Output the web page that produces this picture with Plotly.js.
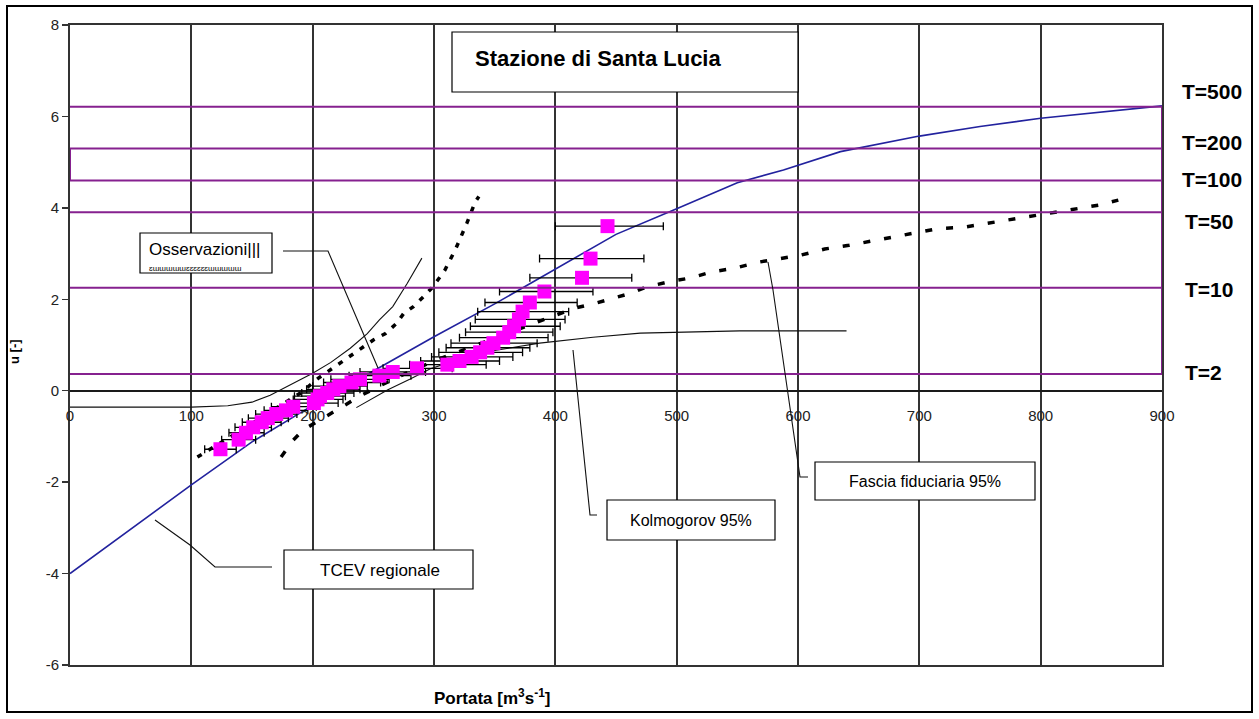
<!DOCTYPE html>
<html>
<head>
<meta charset="utf-8">
<script src="https://cdn.plot.ly/plotly-3.0.1.min.js"></script>
<style>html,body{margin:0;padding:0;background:#fff;}#chart{width:1259px;height:719px;}</style>
</head>
<body>
<div id="chart"></div>
<script>
// ---- data ----
// Observations (Portata m3/s, reduced variate u)
const obsQ = [124,139,145,151,158,163,170,178,184,201,204,206,212,217,222,232,239,255,266,286,311,321,331,338,344,349,357,362,366,370,373,379,391,422,429,443];
const obsU = [-1.28,-1.07,-0.92,-0.80,-0.69,-0.60,-0.51,-0.43,-0.35,-0.27,-0.19,-0.12,-0.05,0.03,0.10,0.18,0.25,0.33,0.41,0.49,0.57,0.65,0.74,0.84,0.94,1.04,1.16,1.28,1.41,1.56,1.73,1.93,2.17,2.47,2.89,3.60];
const obsErrMinus = [13,14,14,15,16,16,17,18,18,20,20,21,21,22,22,23,24,25,27,28,31,32,33,34,34,35,36,36,36,36,37,37,37,43,42,43];
const obsErrPlus  = [13,14,15,15,16,17,17,18,19,20,21,21,22,22,23,24,24,26,27,29,32,33,34,35,35,36,37,36,38,38,38,39,40,41,44,46];

// TCEV regionale
const tcevQ = [0,50,100,150,200,250,300,350,400,450,500,550,588,635,700,750,800,850,900];
const tcevU = [-4.00,-3.03,-2.06,-1.12,-0.32,0.43,1.18,1.90,2.66,3.42,3.98,4.55,4.83,5.23,5.57,5.78,5.96,6.10,6.23];

// Fascia fiduciaria 95% (upper and lower bounds)
const fasUpQ = [105,130,150,170,190,205,220,231,242,250,260,269,275,283,290,299,309,318,327,334,337];
const fasUpU = [-1.45,-1.05,-0.72,-0.38,-0.05,0.28,0.55,0.76,0.96,1.11,1.25,1.47,1.69,1.84,2.02,2.27,2.64,3.11,3.66,4.13,4.25];
const fasLoQ = [174,184,192,202,215,240,270,300,330,360,393,415,434,444,462,474,493,512,529,548,567,585,603,622,642,680,716,735,754,773,792,809,828,848,864];
const fasLoU = [-1.45,-1.08,-0.86,-0.71,-0.50,-0.10,0.30,0.65,0.95,1.25,1.60,1.80,1.92,2.00,2.13,2.26,2.38,2.47,2.60,2.68,2.81,2.89,2.97,3.10,3.18,3.37,3.55,3.57,3.65,3.73,3.82,3.90,3.97,4.06,4.17];

// Kolmogorov 95% (upper and lower bounds)
const kolUpQ = [0,100,130,150,165,180,200,215,231,245,255,266,278,290];
const kolUpU = [-0.36,-0.36,-0.33,-0.25,-0.10,0.10,0.38,0.62,0.93,1.25,1.55,1.84,2.35,2.90];
const kolLoQ = [236,250,262,280,297,320,350,387,431,470,552,640];
const kolLoU = [-0.37,-0.15,0.02,0.25,0.48,0.68,0.88,1.04,1.17,1.26,1.31,1.31];

// Return periods and their reduced variates
const retT = [500,200,100,50,10,2];
const retU = [6.214,5.296,4.600,3.902,2.250,0.367];

// tick values and labels
const xTicks = [0,100,200,300,400,500,600,700,800,900];
const yTicks = [-6,-4,-2,0,2,4,6,8];
const yTickText = ['-6','-4','-2','0','2','4','6','8'];

// ---- build traces ----
const X0 = 0, X1 = 900;
const tLineX = [], tLineY = [];
retU.forEach(u => { tLineX.push(X0, X1, null); tLineY.push(u, u, null); });
tLineX.push(X1, X1, null, X0, X0);
tLineY.push(retU[retU.length-1], retU[0], null, retU[1], retU[2]);

const purple = '#86218f';
const traces = [
  {x: tLineX, y: tLineY, xaxis: 'x2', yaxis: 'y', mode: 'lines', line: {color: purple, width: 2}, hoverinfo: 'skip'},
  {x: kolUpQ, y: kolUpU, mode: 'lines', line: {color: '#111', width: 1.1}},
  {x: kolLoQ, y: kolLoU, mode: 'lines', line: {color: '#111', width: 1.1}},
  {x: fasUpQ, y: fasUpU, mode: 'lines', line: {color: '#000', width: 3.5, dash: '5px,8px'}},
  {x: fasLoQ, y: fasLoU, mode: 'lines', line: {color: '#000', width: 3.5, dash: '7px,14px'}},
  {x: tcevQ, y: tcevU, mode: 'lines', line: {color: '#22229e', width: 1.6}},
  {x: obsQ, y: obsU, mode: 'markers',
   marker: {symbol: 'square', size: 14, color: '#ff00ff', line: {width: 0}},
   error_x: {type: 'data', symmetric: false, array: obsErrPlus, arrayminus: obsErrMinus,
             color: '#000', thickness: 1.3, width: 4}}
];

// ---- layout helpers (pixel -> paper) ----
const L = 70, R = 1162, T = 25, B = 665;
const px = v => (v - L) / (R - L);
const py = v => (B - v) / (B - T);
const rect = (x0, y0, x1, y1, w) => ({type: 'rect', xref: 'paper', yref: 'paper',
  x0: px(x0), x1: px(x1), y0: py(y0), y1: py(y1), line: {color: '#000', width: w || 1.2}, fillcolor: '#fff', layer: 'above'});
const path = pts => ({type: 'path', xref: 'paper', yref: 'paper',
  path: pts.map((p, i) => (i ? 'L' : 'M') + px(p[0]) + ',' + py(p[1])).join(' '),
  line: {color: '#111', width: 1.1}, layer: 'above'});
const txt = (t, x, y, size, bold, anchor, extra) => Object.assign({
  text: bold ? '<b>' + t + '</b>' : t, xref: 'paper', yref: 'paper', x: px(x), y: py(y),
  xanchor: anchor || 'center', yanchor: 'middle', showarrow: false,
  font: {family: 'Liberation Sans, Arial, sans-serif', size: size, color: '#000'}}, extra || {});

const tLabelPx = [[1180, 91], [1180, 143], [1180, 179], [1183, 221], [1183, 289], [1183, 372]];

const annotations = [
  txt('Stazione di Santa Lucia', 473, 59, 22, true, 'left'),
  txt('Osservazioni|||', 147, 249, 17, false, 'left'),
  txt('ɛɯɯɯɯɯɛɛɛɛɛɛɯɯɯɯɯ', 147, 268, 8, false, 'left'),
  txt('TCEV regionale', 380, 570, 17),
  txt('Kolmogorov 95%', 691, 520, 16),
  txt('Fascia fiduciaria 95%', 925, 481, 16),
  txt('Portata [m<sup>3</sup>s<sup>-1</sup>]', 432, 697, 17, true, 'left'),
  txt('u [-]', 14, 352, 13, true, 'center', {textangle: -90})
];
retT.forEach((t, i) => annotations.push(txt('T=' + t, tLabelPx[i][0], tLabelPx[i][1], 21, true, 'left')));

const shapes = [
  rect(7, 6, 1252, 712, 2),
  rect(452, 32, 798, 92),
  rect(140, 233, 272, 273),
  rect(284, 550, 473, 589),
  rect(607, 500, 775, 540),
  rect(815, 462, 1035, 500),
  path([[283, 251], [328, 251], [378, 368]]),
  path([[155, 520], [190, 545], [215, 567], [272, 567]]),
  path([[573, 350], [590, 515], [597, 515]]),
  path([[768, 262], [773, 290], [800, 477], [808, 477]])
];
shapes[0].fillcolor = 'rgba(0,0,0,0)';
shapes[0].layer = 'below';

const gridC = '#333333';
const tickFont = {size: 15, color: '#222', family: 'Liberation Sans, Arial, sans-serif'};
const layout = {
  width: 1259, height: 719,
  margin: {l: L, r: 1259 - R, t: T, b: 719 - B, pad: 0},
  paper_bgcolor: '#fff', plot_bgcolor: '#fff',
  showlegend: false,
  font: {family: 'Liberation Sans, Arial, sans-serif', color: '#111'},
  xaxis: {range: [0, 900], tickvals: xTicks, showticklabels: false, ticks: '',
          showgrid: true, gridcolor: gridC, gridwidth: 2,
          showline: true, mirror: true, linecolor: gridC, linewidth: 2, zeroline: false},
  xaxis2: {overlaying: 'x', matches: 'x', anchor: 'free', position: 6 / 14, side: 'bottom',
           tickvals: xTicks, ticktext: xTicks.map(String), showgrid: false, zeroline: false, showline: false,
           ticks: 'outside', ticklen: 11, tickcolor: 'rgba(0,0,0,0)', tickfont: tickFont},
  yaxis: {range: [-6, 8], tickvals: yTicks, ticktext: yTickText, showgrid: false,
          zeroline: true, zerolinecolor: '#1a1a1a', zerolinewidth: 2,
          showline: true, mirror: true, linecolor: gridC, linewidth: 2,
          ticks: 'outside', ticklen: 6, tickcolor: gridC, tickwidth: 1.5, tickfont: tickFont},
  shapes: shapes,
  annotations: annotations
};

Plotly.newPlot('chart', traces, layout, {displayModeBar: false, staticPlot: true});
</script>
</body>
</html>
